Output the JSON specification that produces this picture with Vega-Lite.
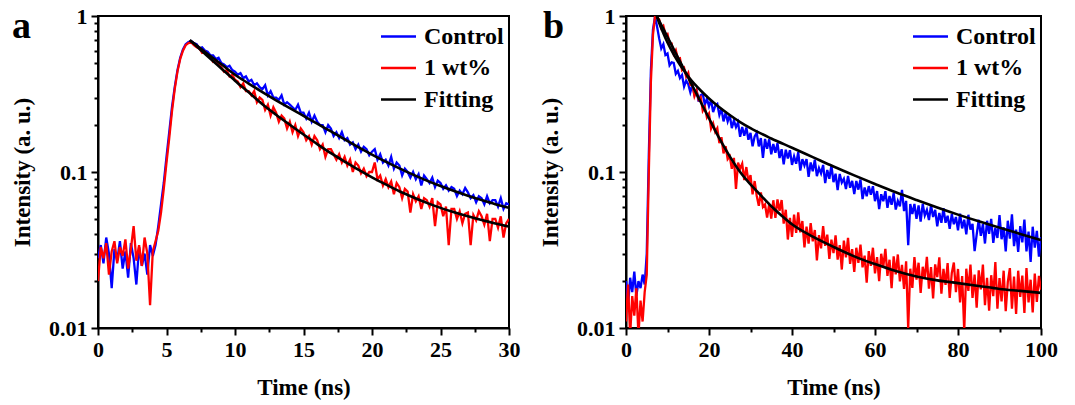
{
  "$schema": "https://vega.github.io/schema/vega-lite/v6.json",
  "background": "white",
  "padding": {"left": 10, "top": 4, "right": 5, "bottom": 5},
  "spacing": 17,
  "datasets": {
    "pa": [
      {"t":0,"control":0.028,"wt1":0.02},{"t":0.2,"control":0.034,"wt1":0.033},{"t":0.4,"control":0.026,"wt1":0.028},{"t":0.6,"control":0.038,"wt1":0.035},{"t":0.8,"control":0.03,"wt1":0.022},
      {"t":1.0,"control":0.018,"wt1":0.031},{"t":1.2,"control":0.032,"wt1":0.036},{"t":1.4,"control":0.027,"wt1":0.026},{"t":1.6,"control":0.036,"wt1":0.033},{"t":1.8,"control":0.024,"wt1":0.029},
      {"t":2.0,"control":0.031,"wt1":0.037},{"t":2.2,"control":0.021,"wt1":0.024},{"t":2.4,"control":0.035,"wt1":0.032},{"t":2.6,"control":0.028,"wt1":0.045},{"t":2.8,"control":0.019,"wt1":0.027},
      {"t":3.0,"control":0.033,"wt1":0.034},{"t":3.2,"control":0.025,"wt1":0.025},{"t":3.4,"control":0.03,"wt1":0.038},{"t":3.6,"control":0.022,"wt1":0.03},{"t":3.8,"control":0.034,"wt1":0.014},
      {"t":4.0,"control":0.029,"wt1":0.031},{"t":4.2,"control":0.034,"wt1":0.036},{"t":4.4,"control":0.045,"wt1":0.042},{"t":4.6,"control":0.062,"wt1":0.055},{"t":4.8,"control":0.085,"wt1":0.078},
      {"t":5.0,"control":0.125,"wt1":0.115},{"t":5.2,"control":0.18,"wt1":0.165},{"t":5.4,"control":0.26,"wt1":0.245},{"t":5.6,"control":0.35,"wt1":0.34},{"t":5.8,"control":0.45,"wt1":0.44},
      {"t":6.0,"control":0.54,"wt1":0.53},{"t":6.2,"control":0.61,"wt1":0.6},{"t":6.4,"control":0.66,"wt1":0.65},{"t":6.6,"control":0.68,"wt1":0.67},{"t":6.8,"control":0.69,"wt1":0.68},
      {"t":7.0,"control":0.67,"wt1":0.65},{"t":7.2,"control":0.66,"wt1":0.63},{"t":7.4,"control":0.62,"wt1":0.62},{"t":7.6,"control":0.63,"wt1":0.58},{"t":7.8,"control":0.6,"wt1":0.59},
      {"t":8.0,"control":0.59,"wt1":0.56},{"t":8.2,"control":0.56,"wt1":0.55},{"t":8.4,"control":0.56,"wt1":0.51},{"t":8.6,"control":0.53,"wt1":0.52},{"t":8.8,"control":0.54,"wt1":0.49},
      {"t":9.0,"control":0.5,"wt1":0.47},{"t":9.2,"control":0.49,"wt1":0.44},{"t":9.4,"control":0.47,"wt1":0.45},{"t":9.6,"control":0.48,"wt1":0.41},{"t":9.8,"control":0.45,"wt1":0.42},
      {"t":10.0,"control":0.44,"wt1":0.39},{"t":10.2,"control":0.42,"wt1":0.38},{"t":10.4,"control":0.43,"wt1":0.35},{"t":10.6,"control":0.4,"wt1":0.37},{"t":10.8,"control":0.41,"wt1":0.33},
      {"t":11.0,"control":0.38,"wt1":0.33},{"t":11.2,"control":0.39,"wt1":0.31},{"t":11.4,"control":0.36,"wt1":0.33},{"t":11.6,"control":0.37,"wt1":0.28},{"t":11.8,"control":0.35,"wt1":0.3},
      {"t":12.0,"control":0.34,"wt1":0.29},{"t":12.2,"control":0.36,"wt1":0.25},{"t":12.4,"control":0.31,"wt1":0.27},{"t":12.6,"control":0.33,"wt1":0.23},{"t":12.8,"control":0.3,"wt1":0.26},
      {"t":13.0,"control":0.3,"wt1":0.24},{"t":13.2,"control":0.29,"wt1":0.21},{"t":13.4,"control":0.31,"wt1":0.23},{"t":13.6,"control":0.27,"wt1":0.22},{"t":13.8,"control":0.28,"wt1":0.19},
      {"t":14.0,"control":0.27,"wt1":0.21},{"t":14.2,"control":0.26,"wt1":0.18},{"t":14.4,"control":0.25,"wt1":0.2},{"t":14.6,"control":0.27,"wt1":0.17},{"t":14.8,"control":0.24,"wt1":0.19},
      {"t":15.0,"control":0.24,"wt1":0.18},{"t":15.2,"control":0.22,"wt1":0.16},{"t":15.4,"control":0.24,"wt1":0.17},{"t":15.6,"control":0.21,"wt1":0.15},{"t":15.8,"control":0.23,"wt1":0.17},
      {"t":16.0,"control":0.21,"wt1":0.16},{"t":16.2,"control":0.2,"wt1":0.14},{"t":16.4,"control":0.2,"wt1":0.15},{"t":16.6,"control":0.18,"wt1":0.125},{"t":16.8,"control":0.2,"wt1":0.14},
      {"t":17.0,"control":0.19,"wt1":0.14},{"t":17.2,"control":0.17,"wt1":0.13},{"t":17.4,"control":0.18,"wt1":0.12},{"t":17.6,"control":0.165,"wt1":0.13},{"t":17.8,"control":0.18,"wt1":0.115},
      {"t":18.0,"control":0.16,"wt1":0.125},{"t":18.2,"control":0.165,"wt1":0.11},{"t":18.4,"control":0.15,"wt1":0.12},{"t":18.6,"control":0.155,"wt1":0.1},{"t":18.8,"control":0.14,"wt1":0.115},
      {"t":19.0,"control":0.15,"wt1":0.11},{"t":19.2,"control":0.135,"wt1":0.098},{"t":19.4,"control":0.145,"wt1":0.105},{"t":19.6,"control":0.14,"wt1":0.094},{"t":19.8,"control":0.128,"wt1":0.1},
      {"t":20.0,"control":0.135,"wt1":0.1},{"t":20.2,"control":0.14,"wt1":0.115},{"t":20.4,"control":0.12,"wt1":0.09},{"t":20.6,"control":0.13,"wt1":0.095},{"t":20.8,"control":0.115,"wt1":0.082},
      {"t":21.0,"control":0.12,"wt1":0.09},{"t":21.2,"control":0.11,"wt1":0.08},{"t":21.4,"control":0.125,"wt1":0.087},{"t":21.6,"control":0.105,"wt1":0.072},{"t":21.8,"control":0.115,"wt1":0.085},
      {"t":22.0,"control":0.11,"wt1":0.08},{"t":22.2,"control":0.095,"wt1":0.068},{"t":22.4,"control":0.105,"wt1":0.078},{"t":22.6,"control":0.1,"wt1":0.075},{"t":22.8,"control":0.092,"wt1":0.055},
      {"t":23.0,"control":0.1,"wt1":0.072},{"t":23.2,"control":0.09,"wt1":0.065},{"t":23.4,"control":0.097,"wt1":0.07},{"t":23.6,"control":0.082,"wt1":0.058},{"t":23.8,"control":0.095,"wt1":0.068},
      {"t":24.0,"control":0.09,"wt1":0.066},{"t":24.2,"control":0.085,"wt1":0.06},{"t":24.4,"control":0.092,"wt1":0.068},{"t":24.6,"control":0.08,"wt1":0.045},{"t":24.8,"control":0.088,"wt1":0.064},
      {"t":25.0,"control":0.085,"wt1":0.062},{"t":25.2,"control":0.078,"wt1":0.052},{"t":25.4,"control":0.082,"wt1":0.06},{"t":25.6,"control":0.076,"wt1":0.034},{"t":25.8,"control":0.08,"wt1":0.058},
      {"t":26.0,"control":0.078,"wt1":0.058},{"t":26.2,"control":0.07,"wt1":0.05},{"t":26.4,"control":0.076,"wt1":0.056},{"t":26.6,"control":0.072,"wt1":0.047},{"t":26.8,"control":0.079,"wt1":0.054},
      {"t":27.0,"control":0.074,"wt1":0.055},{"t":27.2,"control":0.068,"wt1":0.034},{"t":27.4,"control":0.071,"wt1":0.053},{"t":27.6,"control":0.064,"wt1":0.049},{"t":27.8,"control":0.07,"wt1":0.056},
      {"t":28.0,"control":0.068,"wt1":0.052},{"t":28.2,"control":0.062,"wt1":0.046},{"t":28.4,"control":0.07,"wt1":0.054},{"t":28.6,"control":0.063,"wt1":0.036},{"t":28.8,"control":0.066,"wt1":0.05},
      {"t":29.0,"control":0.066,"wt1":0.05},{"t":29.2,"control":0.06,"wt1":0.044},{"t":29.4,"control":0.068,"wt1":0.052},{"t":29.6,"control":0.058,"wt1":0.038},{"t":29.8,"control":0.063,"wt1":0.047},
      {"t":30.0,"control":0.062,"wt1":0.05}
    ],
    "pafit": [
      {"curve":"Control","t":6.7,"v":0.70},{"curve":"Control","t":7,"v":0.668},{"curve":"Control","t":8,"v":0.571},{"curve":"Control","t":9,"v":0.49},{"curve":"Control","t":10,"v":0.42},
      {"curve":"Control","t":11,"v":0.369},{"curve":"Control","t":12,"v":0.325},{"curve":"Control","t":13,"v":0.288},{"curve":"Control","t":14,"v":0.257},{"curve":"Control","t":15,"v":0.229},
      {"curve":"Control","t":16,"v":0.204},{"curve":"Control","t":17,"v":0.182},{"curve":"Control","t":18,"v":0.162},{"curve":"Control","t":19,"v":0.1445},{"curve":"Control","t":20,"v":0.1294},
      {"curve":"Control","t":21,"v":0.1164},{"curve":"Control","t":22,"v":0.1054},{"curve":"Control","t":23,"v":0.0962},{"curve":"Control","t":24,"v":0.0881},{"curve":"Control","t":25,"v":0.0813},
      {"curve":"Control","t":26,"v":0.0755},{"curve":"Control","t":27,"v":0.0705},{"curve":"Control","t":28,"v":0.0661},{"curve":"Control","t":29,"v":0.0622},{"curve":"Control","t":30,"v":0.0589},
      {"curve":"1 wt%","t":6.7,"v":0.70},{"curve":"1 wt%","t":7,"v":0.664},{"curve":"1 wt%","t":8,"v":0.552},{"curve":"1 wt%","t":9,"v":0.461},{"curve":"1 wt%","t":10,"v":0.385},
      {"curve":"1 wt%","t":11,"v":0.324},{"curve":"1 wt%","t":12,"v":0.272},{"curve":"1 wt%","t":13,"v":0.233},{"curve":"1 wt%","t":14,"v":0.201},{"curve":"1 wt%","t":15,"v":0.174},
      {"curve":"1 wt%","t":16,"v":0.151},{"curve":"1 wt%","t":17,"v":0.132},{"curve":"1 wt%","t":18,"v":0.1167},{"curve":"1 wt%","t":19,"v":0.1035},{"curve":"1 wt%","t":20,"v":0.0925},
      {"curve":"1 wt%","t":21,"v":0.0832},{"curve":"1 wt%","t":22,"v":0.0753},{"curve":"1 wt%","t":23,"v":0.0689},{"curve":"1 wt%","t":24,"v":0.0634},{"curve":"1 wt%","t":25,"v":0.0589},
      {"curve":"1 wt%","t":26,"v":0.0552},{"curve":"1 wt%","t":27,"v":0.052},{"curve":"1 wt%","t":28,"v":0.0492},{"curve":"1 wt%","t":29,"v":0.0468},{"curve":"1 wt%","t":30,"v":0.0447}
    ],
    "pb": [
      {"t":0,"control":0.02,"wt1":0.011},{"t":0.5,"control":0.014,"wt1":0.019},{"t":1,"control":0.021,"wt1":0.009},{"t":1.5,"control":0.017,"wt1":0.016},{"t":2,"control":0.023,"wt1":0.012},
      {"t":2.5,"control":0.016,"wt1":0.018},{"t":3,"control":0.02,"wt1":0.009},{"t":3.5,"control":0.018,"wt1":0.015},{"t":4,"control":0.022,"wt1":0.011},{"t":4.5,"control":0.019,"wt1":0.017},
      {"t":5,"control":0.03,"wt1":0.022},{"t":5.5,"control":0.13,"wt1":0.1},{"t":6,"control":0.45,"wt1":0.38},{"t":6.5,"control":0.82,"wt1":0.76},{"t":7,"control":0.99,"wt1":1.0},
      {"t":7.5,"control":0.85,"wt1":0.97},{"t":8,"control":0.716,"wt1":0.95},{"t":8.5,"control":0.62,"wt1":0.837},{"t":9,"control":0.66,"wt1":0.865},{"t":9.5,"control":0.562,"wt1":0.76},
      {"t":10,"control":0.575,"wt1":0.768},{"t":10.5,"control":0.483,"wt1":0.659},{"t":11,"control":0.505,"wt1":0.665},{"t":11.5,"control":0.5,"wt1":0.571},{"t":12,"control":0.426,"wt1":0.604},
      {"t":12.5,"control":0.445,"wt1":0.532},{"t":13,"control":0.4,"wt1":0.536},{"t":13.5,"control":0.419,"wt1":0.45},{"t":14,"control":0.353,"wt1":0.465},{"t":14.5,"control":0.385,"wt1":0.409},
      {"t":15,"control":0.365,"wt1":0.432},{"t":15.5,"control":0.324,"wt1":0.362},{"t":16,"control":0.363,"wt1":0.365},{"t":16.5,"control":0.312,"wt1":0.306},{"t":17,"control":0.335,"wt1":0.332},
      {"t":17.5,"control":0.283,"wt1":0.291},{"t":18,"control":0.311,"wt1":0.301},{"t":18.5,"control":0.317,"wt1":0.247},{"t":19,"control":0.27,"wt1":0.261},{"t":19.5,"control":0.295,"wt1":0.224},
      {"t":20,"control":0.264,"wt1":0.237},{"t":20.5,"control":0.289,"wt1":0.19},{"t":21,"control":0.242,"wt1":0.205},{"t":21.5,"control":0.265,"wt1":0.181},{"t":22,"control":0.273,"wt1":0.191},
      {"t":22.5,"control":0.232,"wt1":0.153},{"t":23,"control":0.254,"wt1":0.167},{"t":23.5,"control":0.211,"wt1":0.1316},{"t":24,"control":0.24,"wt1":0.1466},{"t":24.5,"control":0.211,"wt1":0.121},
      {"t":25,"control":0.232,"wt1":0.126},{"t":25.5,"control":0.191,"wt1":0.1048},{"t":26,"control":0.214,"wt1":0.1231},{"t":26.5,"control":0.194,"wt1":0.078},{"t":27,"control":0.208,"wt1":0.115},
      {"t":27.5,"control":0.168,"wt1":0.105},{"t":28,"control":0.194,"wt1":0.113},{"t":28.5,"control":0.171,"wt1":0.0887},{"t":29,"control":0.193,"wt1":0.1076},{"t":29.5,"control":0.161,"wt1":0.0863},
      {"t":30,"control":0.178,"wt1":0.0955},{"t":30.5,"control":0.146,"wt1":0.0718},{"t":31,"control":0.169,"wt1":0.0875},{"t":31.5,"control":0.178,"wt1":0.0705},{"t":32,"control":0.146,"wt1":0.0608},
      {"t":32.5,"control":0.165,"wt1":0.0741},{"t":33,"control":0.123,"wt1":0.0597},{"t":33.5,"control":0.163,"wt1":0.062},{"t":34,"control":0.141,"wt1":0.0511},{"t":34.5,"control":0.162,"wt1":0.0623},
      {"t":35,"control":0.13,"wt1":0.0502},{"t":35.5,"control":0.151,"wt1":0.0659},{"t":36,"control":0.133,"wt1":0.0509},{"t":36.5,"control":0.153,"wt1":0.0667},{"t":37,"control":0.123,"wt1":0.0565},
      {"t":37.5,"control":0.14,"wt1":0.0661},{"t":38,"control":0.112,"wt1":0.0467},{"t":38.5,"control":0.139,"wt1":0.0573},{"t":39,"control":0.122,"wt1":0.0369},{"t":39.5,"control":0.138,"wt1":0.0508},
      {"t":40,"control":0.111,"wt1":0.0384},{"t":40.5,"control":0.126,"wt1":0.0533},{"t":41,"control":0.113,"wt1":0.0407},{"t":41.5,"control":0.134,"wt1":0.0551},{"t":42,"control":0.102,"wt1":0.041},
      {"t":42.5,"control":0.121,"wt1":0.0485},{"t":43,"control":0.11,"wt1":0.0329},{"t":43.5,"control":0.121,"wt1":0.0446},{"t":44,"control":0.093,"wt1":0.0348},{"t":44.5,"control":0.115,"wt1":0.0471},
      {"t":45,"control":0.101,"wt1":0.0359},{"t":45.5,"control":0.12,"wt1":0.0425},{"t":46,"control":0.094,"wt1":0.0271},{"t":46.5,"control":0.106,"wt1":0.0394},{"t":47,"control":0.098,"wt1":0.0324},
      {"t":47.5,"control":0.111,"wt1":0.045},{"t":48,"control":0.085,"wt1":0.0336},{"t":48.5,"control":0.103,"wt1":0.0397},{"t":49,"control":0.0905,"wt1":0.0277},{"t":49.5,"control":0.11,"wt1":0.0368},
      {"t":50,"control":0.086,"wt1":0.0302},{"t":50.5,"control":0.0975,"wt1":0.0392},{"t":51,"control":0.0765,"wt1":0.0274},{"t":51.5,"control":0.0972,"wt1":0.034},{"t":52,"control":0.0855,"wt1":0.0237},
      {"t":52.5,"control":0.0905,"wt1":0.0363},{"t":53,"control":0.0778,"wt1":0.0284},{"t":53.5,"control":0.0945,"wt1":0.0378},{"t":54,"control":0.0793,"wt1":0.0258},{"t":54.5,"control":0.0877,"wt1":0.032},
      {"t":55,"control":0.0721,"wt1":0.0229},{"t":55.5,"control":0.0876,"wt1":0.0327},{"t":56,"control":0.0771,"wt1":0.0262},{"t":56.5,"control":0.0894,"wt1":0.0342},{"t":57,"control":0.067,"wt1":0.0245},
      {"t":57.5,"control":0.0795,"wt1":0.0291},{"t":58,"control":0.07,"wt1":0.0195},{"t":58.5,"control":0.0812,"wt1":0.0311},{"t":59,"control":0.0714,"wt1":0.025},{"t":59.5,"control":0.081,"wt1":0.0327},
      {"t":60,"control":0.065,"wt1":0.0224},{"t":60.5,"control":0.0755,"wt1":0.0285},{"t":61,"control":0.0579,"wt1":0.02},{"t":61.5,"control":0.072,"wt1":0.0299},{"t":62,"control":0.0649,"wt1":0.0247},
      {"t":62.5,"control":0.0753,"wt1":0.0322},{"t":63,"control":0.059,"wt1":0.0216},{"t":63.5,"control":0.0701,"wt1":0.0274},{"t":64,"control":0.0617,"wt1":0.018},{"t":64.5,"control":0.0733,"wt1":0.0288},
      {"t":65,"control":0.0575,"wt1":0.0221},{"t":65.5,"control":0.0653,"wt1":0.0296},{"t":66,"control":0.0602,"wt1":0.0199},{"t":66.5,"control":0.0767,"wt1":0.0254},{"t":67,"control":0.0562,"wt1":0.0178},
      {"t":67.5,"control":0.0653,"wt1":0.0268},{"t":68,"control":0.034,"wt1":0.0099},{"t":68.5,"control":0.0624,"wt1":0.024},{"t":69,"control":0.0537,"wt1":0.0181},{"t":69.5,"control":0.0624,"wt1":0.0285},
      {"t":70,"control":0.0501,"wt1":0.0204},{"t":70.5,"control":0.061,"wt1":0.0262},{"t":71,"control":0.048,"wt1":0.0168},{"t":71.5,"control":0.0625,"wt1":0.0247},{"t":72,"control":0.0527,"wt1":0.0209},
      {"t":72.5,"control":0.0571,"wt1":0.0286},{"t":73,"control":0.0492,"wt1":0.0179},{"t":73.5,"control":0.0612,"wt1":0.0246},{"t":74,"control":0.0515,"wt1":0.0155},{"t":74.5,"control":0.0572,"wt1":0.0256},
      {"t":75,"control":0.0449,"wt1":0.0212},{"t":75.5,"control":0.0547,"wt1":0.0284},{"t":76,"control":0.0472,"wt1":0.0166},{"t":76.5,"control":0.0587,"wt1":0.0239},{"t":77,"control":0.0473,"wt1":0.0189},
      {"t":77.5,"control":0.0524,"wt1":0.0261},{"t":78,"control":0.0432,"wt1":0.0156},{"t":78.5,"control":0.0537,"wt1":0.0225},{"t":79,"control":0.0463,"wt1":0.0263},{"t":79.5,"control":0.0515,"wt1":0.017},
      {"t":80,"control":0.0423,"wt1":0.0239},{"t":80.5,"control":0.054,"wt1":0.0146},{"t":81,"control":0.0435,"wt1":0.0215},{"t":81.5,"control":0.0495,"wt1":0.0096},{"t":82,"control":0.0398,"wt1":0.024},
      {"t":82.5,"control":0.0532,"wt1":0.0173},{"t":83,"control":0.0428,"wt1":0.0255},{"t":83.5,"control":0.0465,"wt1":0.0156},{"t":84,"control":0.0311,"wt1":0.022},{"t":84.5,"control":0.0397,"wt1":0.0135},
      {"t":85,"control":0.0494,"wt1":0.0234},{"t":85.5,"control":0.039,"wt1":0.0177},{"t":86,"control":0.0463,"wt1":0.0255},{"t":86.5,"control":0.0348,"wt1":0.014},{"t":87,"control":0.0487,"wt1":0.021},
      {"t":87.5,"control":0.0401,"wt1":0.0129},{"t":88,"control":0.0501,"wt1":0.0218},{"t":88.5,"control":0.0351,"wt1":0.016},{"t":89,"control":0.0438,"wt1":0.0265},{"t":89.5,"control":0.0378,"wt1":0.0133},
      {"t":90,"control":0.0529,"wt1":0.0209},{"t":90.5,"control":0.0371,"wt1":0.0148},{"t":91,"control":0.0442,"wt1":0.0233},{"t":91.5,"control":0.031,"wt1":0.0128},{"t":92,"control":0.0487,"wt1":0.0197},
      {"t":92.5,"control":0.0374,"wt1":0.0242},{"t":93,"control":0.0536,"wt1":0.0133},{"t":93.5,"control":0.0335,"wt1":0.0214},{"t":94,"control":0.0427,"wt1":0.0123},{"t":94.5,"control":0.0307,"wt1":0.0233},
      {"t":95,"control":0.045,"wt1":0.0158},{"t":95.5,"control":0.0354,"wt1":0.0217},{"t":96,"control":0.0496,"wt1":0.0125},{"t":96.5,"control":0.031,"wt1":0.0242},{"t":97,"control":0.0415,"wt1":0.0146},
      {"t":97.5,"control":0.0265,"wt1":0.0204},{"t":98,"control":0.0446,"wt1":0.0126},{"t":98.5,"control":0.0327,"wt1":0.0223},{"t":99,"control":0.0419,"wt1":0.0147},{"t":99.5,"control":0.0287,"wt1":0.0216},
      {"t":100,"control":0.0383,"wt1":0.0176}
    ],
    "pbfit": [
      {"curve":"Control","t":7.4,"v":1.0},{"curve":"Control","t":8,"v":0.902},{"curve":"Control","t":9,"v":0.776},{"curve":"Control","t":10,"v":0.676},{"curve":"Control","t":11,"v":0.6},
      {"curve":"Control","t":12,"v":0.537},{"curve":"Control","t":13,"v":0.486},{"curve":"Control","t":14,"v":0.445},{"curve":"Control","t":15,"v":0.409},{"curve":"Control","t":16,"v":0.38},
      {"curve":"Control","t":17,"v":0.355},{"curve":"Control","t":18,"v":0.333},{"curve":"Control","t":20,"v":0.296},{"curve":"Control","t":22.5,"v":0.26},{"curve":"Control","t":25,"v":0.232},
      {"curve":"Control","t":27.5,"v":0.209},{"curve":"Control","t":30,"v":0.191},{"curve":"Control","t":35,"v":0.164},{"curve":"Control","t":40,"v":0.143},{"curve":"Control","t":45,"v":0.1245},
      {"curve":"Control","t":50,"v":0.1084},{"curve":"Control","t":55,"v":0.0951},{"curve":"Control","t":60,"v":0.0838},{"curve":"Control","t":65,"v":0.0741},{"curve":"Control","t":70,"v":0.0661},
      {"curve":"Control","t":75,"v":0.0592},{"curve":"Control","t":80,"v":0.0533},{"curve":"Control","t":85,"v":0.0483},{"curve":"Control","t":90,"v":0.044},{"curve":"Control","t":95,"v":0.0401},
      {"curve":"Control","t":100,"v":0.0366},
      {"curve":"1 wt%","t":7.4,"v":1.0},{"curve":"1 wt%","t":8,"v":0.931},{"curve":"1 wt%","t":9,"v":0.826},{"curve":"1 wt%","t":10,"v":0.733},{"curve":"1 wt%","t":11,"v":0.65},
      {"curve":"1 wt%","t":12,"v":0.577},{"curve":"1 wt%","t":13,"v":0.512},{"curve":"1 wt%","t":14,"v":0.454},{"curve":"1 wt%","t":15,"v":0.403},{"curve":"1 wt%","t":16,"v":0.357},
      {"curve":"1 wt%","t":17,"v":0.317},{"curve":"1 wt%","t":18,"v":0.281},{"curve":"1 wt%","t":20,"v":0.221},{"curve":"1 wt%","t":22.5,"v":0.164},{"curve":"1 wt%","t":25,"v":0.126},
      {"curve":"1 wt%","t":27.5,"v":0.1},{"curve":"1 wt%","t":30,"v":0.0832},{"curve":"1 wt%","t":32.5,"v":0.0708},{"curve":"1 wt%","t":35,"v":0.0603},{"curve":"1 wt%","t":37.5,"v":0.0525},
      {"curve":"1 wt%","t":40,"v":0.0462},{"curve":"1 wt%","t":45,"v":0.0385},{"curve":"1 wt%","t":50,"v":0.0331},{"curve":"1 wt%","t":55,"v":0.0288},{"curve":"1 wt%","t":60,"v":0.0257},
      {"curve":"1 wt%","t":65,"v":0.0232},{"curve":"1 wt%","t":70,"v":0.0214},{"curve":"1 wt%","t":75,"v":0.0202},{"curve":"1 wt%","t":80,"v":0.0194},{"curve":"1 wt%","t":85,"v":0.0186},
      {"curve":"1 wt%","t":90,"v":0.0178},{"curve":"1 wt%","t":95,"v":0.0173},{"curve":"1 wt%","t":100,"v":0.0168}
    ]
  },
  "hconcat": [
    {
      "width": 411,
      "height": 312,
      "resolve": {"axis": {"x": "independent", "y": "independent"}},
      "layer": [
        {
          "data": {"name": "pa"},
          "mark": {"type": "line", "strokeWidth": 2.3, "clip": true},
          "encoding": {
            "x": {"field": "t", "type": "quantitative", "scale": {"domain": [0, 30], "nice": false, "zero": false},
                  "axis": {"values": [0, 5, 10, 15, 20, 25, 30], "title": "Time (ns)", "orient": "bottom"}},
            "y": {"field": "control", "type": "quantitative", "scale": {"type": "log", "domain": [0.01, 1], "nice": false},
                  "axis": {"values": [0.01, 0.1, 1], "format": "~g", "title": "Intensity (a. u.)", "orient": "left"}},
            "color": {"datum": "Control", "type": "nominal",
                      "scale": {"domain": ["Control", "1 wt%", "Fitting"], "range": ["#0000ff", "#ff0000", "#000000"]},
                      "legend": {"title": null}}
          }
        },
        {
          "data": {"name": "pa"},
          "mark": {"type": "line", "strokeWidth": 2.3, "clip": true},
          "encoding": {
            "x": {"field": "t", "type": "quantitative", "axis": null},
            "y": {"field": "wt1", "type": "quantitative", "axis": null},
            "color": {"datum": "1 wt%", "type": "nominal"}
          }
        },
        {
          "data": {"name": "pafit"},
          "mark": {"type": "line", "strokeWidth": 2.6, "interpolate": "monotone", "clip": true},
          "encoding": {
            "x": {"field": "t", "type": "quantitative",
                  "axis": {"values": [2.5, 7.5, 12.5, 17.5, 22.5, 27.5], "labels": false, "domain": false, "title": null, "tickSize": 4, "orient": "bottom"}},
            "y": {"field": "v", "type": "quantitative",
                  "axis": {"values": [0.02, 0.03, 0.04, 0.05, 0.06, 0.07, 0.08, 0.09, 0.2, 0.3, 0.4, 0.5, 0.6, 0.7, 0.8, 0.9], "labels": false, "domain": false, "title": null, "tickSize": 4, "orient": "left"}},
            "detail": {"field": "curve"},
            "color": {"datum": "Fitting", "type": "nominal"}
          }
        },
        {
          "data": {"values": [{"label": "a"}]},
          "mark": {"type": "text", "font": "Liberation Serif", "fontWeight": "bold", "fontSize": 38, "align": "left", "baseline": "alphabetic", "color": "black", "clip": false},
          "encoding": {
            "text": {"field": "label"},
            "x": {"datum": -6.28, "type": "quantitative", "axis": null},
            "y": {"datum": 0.72, "type": "quantitative", "axis": null}
          }
        }
      ]
    },
    {
      "width": 415,
      "height": 312,
      "resolve": {"axis": {"x": "independent", "y": "independent"}},
      "layer": [
        {
          "data": {"name": "pb"},
          "mark": {"type": "line", "strokeWidth": 2.3, "clip": true},
          "encoding": {
            "x": {"field": "t", "type": "quantitative", "scale": {"domain": [0, 100], "nice": false, "zero": false},
                  "axis": {"values": [0, 20, 40, 60, 80, 100], "title": "Time (ns)", "orient": "bottom"}},
            "y": {"field": "control", "type": "quantitative", "scale": {"type": "log", "domain": [0.01, 1], "nice": false},
                  "axis": {"values": [0.01, 0.1, 1], "format": "~g", "title": "Intensity (a. u.)", "orient": "left"}},
            "color": {"datum": "Control", "type": "nominal",
                      "scale": {"domain": ["Control", "1 wt%", "Fitting"], "range": ["#0000ff", "#ff0000", "#000000"]},
                      "legend": {"title": null}}
          }
        },
        {
          "data": {"name": "pb"},
          "mark": {"type": "line", "strokeWidth": 2.3, "clip": true},
          "encoding": {
            "x": {"field": "t", "type": "quantitative", "axis": null},
            "y": {"field": "wt1", "type": "quantitative", "axis": null},
            "color": {"datum": "1 wt%", "type": "nominal"}
          }
        },
        {
          "data": {"name": "pbfit"},
          "mark": {"type": "line", "strokeWidth": 2.6, "interpolate": "monotone", "clip": true},
          "encoding": {
            "x": {"field": "t", "type": "quantitative",
                  "axis": {"values": [10, 30, 50, 70, 90], "labels": false, "domain": false, "title": null, "tickSize": 4, "orient": "bottom"}},
            "y": {"field": "v", "type": "quantitative",
                  "axis": {"values": [0.02, 0.03, 0.04, 0.05, 0.06, 0.07, 0.08, 0.09, 0.2, 0.3, 0.4, 0.5, 0.6, 0.7, 0.8, 0.9], "labels": false, "domain": false, "title": null, "tickSize": 4, "orient": "left"}},
            "detail": {"field": "curve"},
            "color": {"datum": "Fitting", "type": "nominal"}
          }
        },
        {
          "data": {"values": [{"label": "b"}]},
          "mark": {"type": "text", "font": "Liberation Serif", "fontWeight": "bold", "fontSize": 38, "align": "left", "baseline": "alphabetic", "color": "black", "clip": false},
          "encoding": {
            "text": {"field": "label"},
            "x": {"datum": -20.0, "type": "quantitative", "axis": null},
            "y": {"datum": 0.72, "type": "quantitative", "axis": null}
          }
        }
      ]
    }
  ],
  "resolve": {"scale": {"color": "independent"}, "legend": {"color": "independent"}},
  "config": {
    "font": "Liberation Serif",
    "view": {"stroke": "black", "strokeWidth": 2},
    "axis": {
      "grid": false,
      "labelFont": "Liberation Serif", "labelFontWeight": "bold", "labelFontSize": 22, "labelColor": "black",
      "labelPadding": 4, "labelFlush": false, "labelOverlap": false,
      "titleFont": "Liberation Serif", "titleFontWeight": "bold", "titleFontSize": 23, "titleColor": "black",
      "domainColor": "black", "domainWidth": 2,
      "tickColor": "black", "tickWidth": 2, "tickSize": 7
    },
    "axisX": {"titlePadding": 16},
    "axisY": {"titlePadding": 14},
    "legend": {
      "orient": "top-right", "offset": 5, "padding": 0,
      "symbolType": "M-1.25,0L1.25,0", "symbolSize": 784, "symbolStrokeWidth": 2.5,
      "labelFont": "Liberation Serif", "labelFontWeight": "bold", "labelFontSize": 24, "labelColor": "black",
      "labelOffset": 10, "rowPadding": 3.5
    }
  }
}
